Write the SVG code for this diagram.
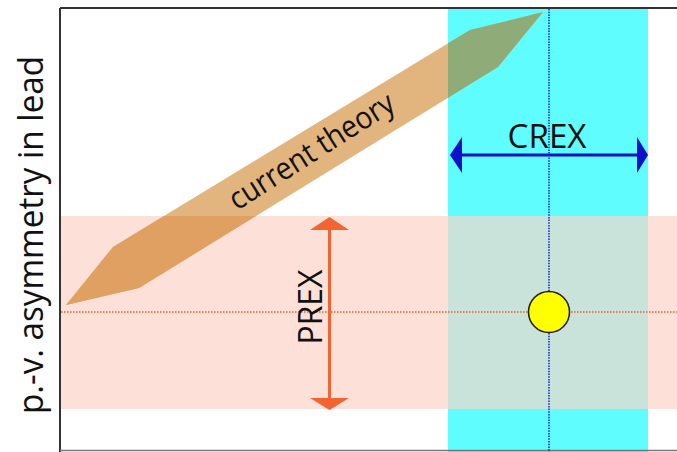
<svg xmlns="http://www.w3.org/2000/svg" width="677" height="452" viewBox="0 0 677 452">
<style>
.lbl{font-family:"Open Sans","Liberation Sans",sans-serif;fill:#111;}
.dotO{stroke:#e8602c;stroke-width:1.3;stroke-dasharray:1.5 1.5;fill:none;}
.dotB{stroke:#1a2ed0;stroke-width:1.6;stroke-dasharray:1.5 1.2;fill:none;}
</style>
<defs>
<clipPath id="cPink"><rect x="61" y="216" width="387" height="193"/></clipPath>
<clipPath id="cCyan"><rect x="448" y="8" width="200" height="444"/></clipPath>
<polygon id="bandShape" points="66,305 113,247 470,30 543,12 498,67 139,288"/>
</defs>
<rect width="677" height="452" fill="#ffffff"/>
<g id="bands">
<rect x="448" y="8" width="200" height="444" fill="#5ffdfd"/>
<rect x="61" y="216" width="616" height="193" fill="#fde0d8"/>
<rect x="448" y="216" width="200" height="193" fill="#c9e2da"/>
</g>
<g id="frame" stroke="#333" stroke-width="2" fill="none">
<line x1="60" y1="8" x2="677" y2="8"/>
<line x1="60" y1="8" x2="60" y2="452"/>
<line x1="60" y1="450.5" x2="677" y2="450.5" stroke="#777" stroke-width="1.5"/>
</g>
<g id="theory">
<use href="#bandShape" fill="#e2b47e"/>
<use href="#bandShape" fill="#e0a062" clip-path="url(#cPink)"/>
<use href="#bandShape" fill="#8fab78" clip-path="url(#cCyan)"/>
<text class="lbl" x="317" y="160" font-size="31" text-anchor="middle" textLength="190" lengthAdjust="spacingAndGlyphs" transform="rotate(-32.5 317 160)">current theory</text>
</g>
<g id="connectors">
<line class="dotO" x1="61" y1="312" x2="677" y2="312"/>
<g id="prex-arrow" fill="#f26430">
<line x1="329.5" y1="226" x2="329.5" y2="400" stroke="#f26430" stroke-width="3"/>
<polygon points="329.5,217 310,230 349,230"/>
<polygon points="329.5,410 310,398 349,398"/>
</g>
<g id="crex-arrow" fill="#1010c8">
<line x1="458" y1="155" x2="640" y2="155" stroke="#1010c8" stroke-width="3"/>
<polygon points="450,155 462,137 462,173"/>
<polygon points="648,155 637,137 637,173"/>
</g>
</g>
<g id="labels">
<text class="lbl" x="547" y="148" font-size="33" text-anchor="middle" textLength="79" lengthAdjust="spacingAndGlyphs">CREX</text>
<text class="lbl" x="322" y="307" font-size="33" text-anchor="middle" textLength="75" lengthAdjust="spacingAndGlyphs" transform="rotate(-90 322 307)">PREX</text>
<text class="lbl" x="43" y="235" font-size="34" text-anchor="middle" textLength="358" lengthAdjust="spacingAndGlyphs" transform="rotate(-90 43 235)">p.-v. asymmetry in lead</text>
</g>
<line class="dotB" x1="549" y1="9" x2="549" y2="452"/>
<g id="measurement">
<circle cx="549" cy="312" r="20.5" fill="#ffff00" stroke="#222" stroke-width="1.6"/>
</g>
</svg>
